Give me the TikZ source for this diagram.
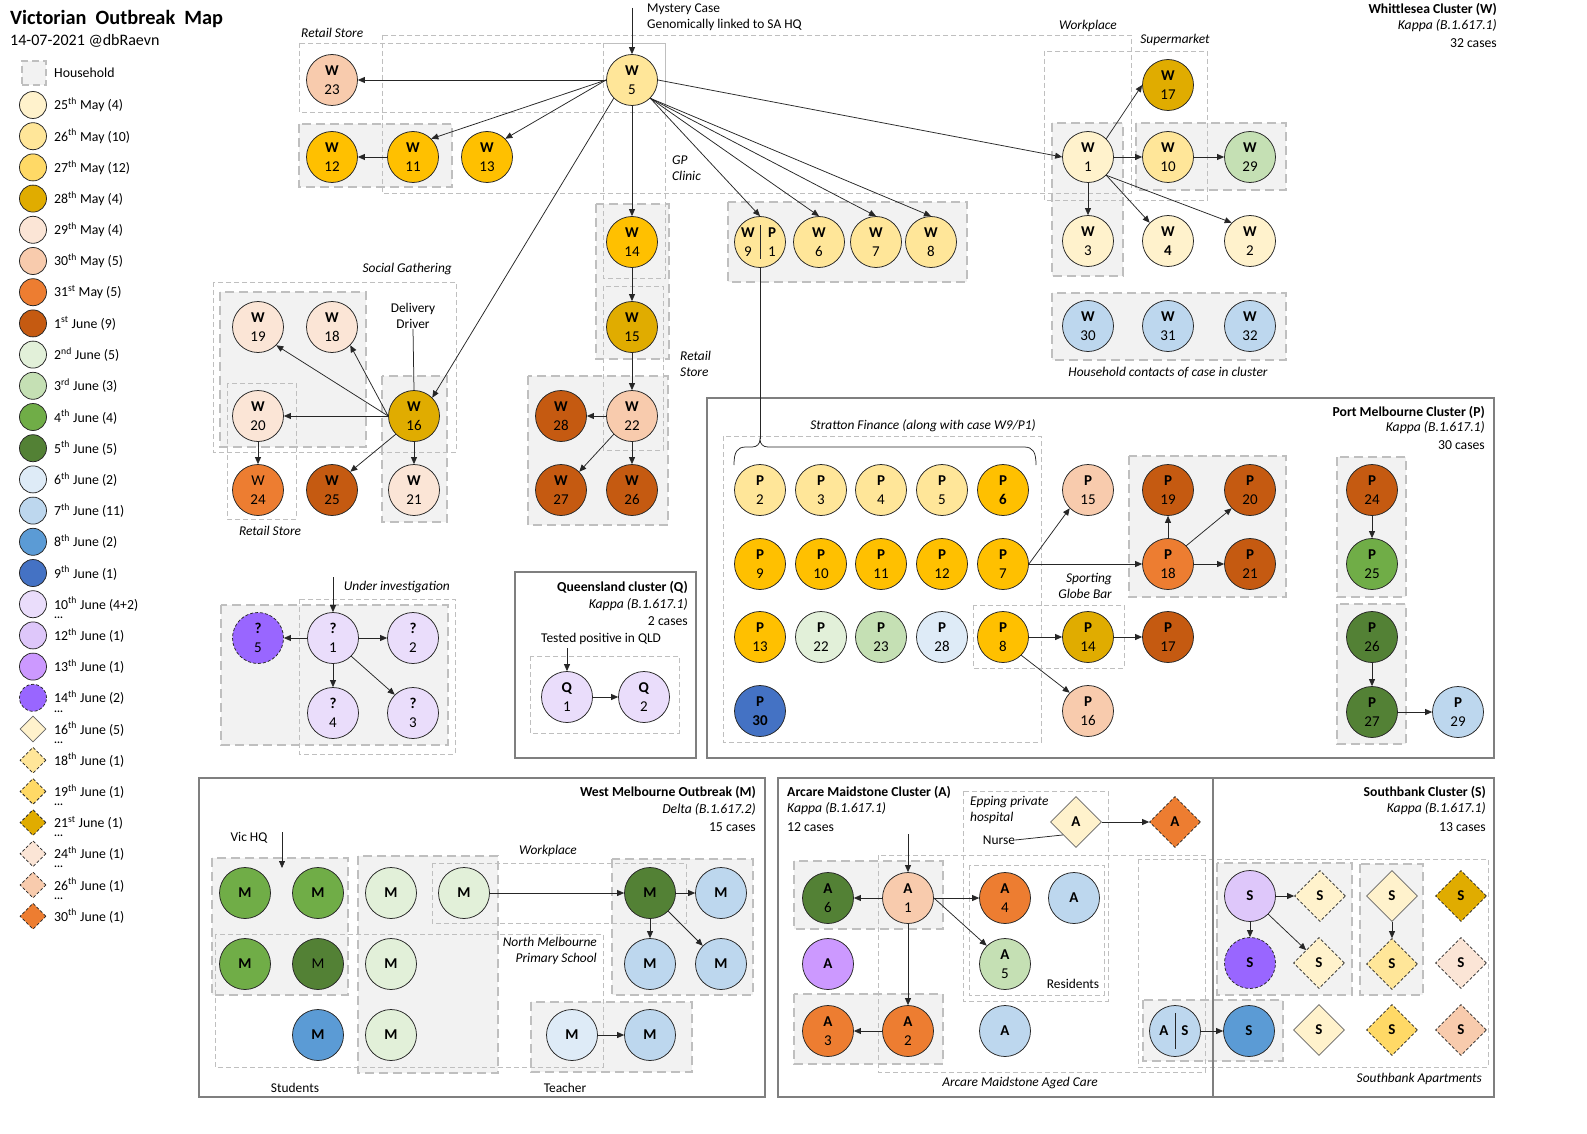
\documentclass[tikz,border=0pt]{standalone}
\usepackage{fontspec}
\setmainfont{Carlito}
\usepackage{tikz}
\usetikzlibrary{shapes.geometric,arrows.meta}

% onset day colours
\definecolor{c25may}{HTML}{FFF2CC}
\definecolor{c26may}{HTML}{FFE699}
\definecolor{c27may}{HTML}{FFC000}
\definecolor{c27leg}{HTML}{FFD966}
\definecolor{c28may}{HTML}{E0AC00}
\definecolor{c29may}{HTML}{FBE5D6}
\definecolor{c30may}{HTML}{F8CBAD}
\definecolor{c31may}{HTML}{ED7D31}
\definecolor{c1jun}{HTML}{C55A11}
\definecolor{c2jun}{HTML}{E2F0D9}
\definecolor{c3jun}{HTML}{C5E0B4}
\definecolor{c4jun}{HTML}{70AD47}
\definecolor{c5jun}{HTML}{538135}
\definecolor{c6jun}{HTML}{DEEBF7}
\definecolor{c7jun}{HTML}{BDD7EE}
\definecolor{c8jun}{HTML}{5B9BD5}
\definecolor{c9jun}{HTML}{4472C4}
\definecolor{c10jun}{HTML}{EADDFB}
\definecolor{c12jun}{HTML}{DEC7FA}
\definecolor{c13jun}{HTML}{CC99FF}
\definecolor{c14jun}{HTML}{9966FF}
\definecolor{c16jun}{HTML}{FFF2CC}
\definecolor{c18jun}{HTML}{FFE699}
\definecolor{c19jun}{HTML}{FFD966}
\definecolor{c21jun}{HTML}{E0AC00}
\definecolor{c24jun}{HTML}{FBE5D6}
\definecolor{c26jun}{HTML}{F8CBAD}
\definecolor{c30jun}{HTML}{ED7D31}
\definecolor{hhfill}{HTML}{F2F2F2}
\definecolor{hhline}{HTML}{BFBFBF}
\definecolor{clusterline}{HTML}{7F7F7F}

\newcommand{\casefont}{\fontsize{15}{19}\selectfont}
\newcommand{\legfont}{\fontsize{13.8}{15}\selectfont}
\newcommand{\tagfont}{\fontsize{13.4}{16}\selectfont}
\newcommand{\headfont}{\fontsize{13.7}{17}\selectfont}

\tikzset{
  case/.style={circle, draw=black!85, line width=0.75pt, minimum size=51pt, inner sep=0pt, align=center, font=\casefont},
  dcase/.style={diamond, draw=black!60, line width=0.75pt, minimum size=51pt, inner sep=0pt, font=\casefont\bfseries},
  late/.style={draw=black!85, dash pattern=on 3pt off 2pt},
  half/.style={inner sep=0pt, align=center, font=\casefont},
  house/.style={draw=hhline, fill=hhfill, line width=2.6pt, dash pattern=on 9pt off 5pt},
  place/.style={draw=hhline, line width=0.8pt, dash pattern=on 5pt off 3pt},
  cluster/.style={draw=clusterline, line width=2.6pt},
  spread/.style={-{Triangle[length=7pt,width=6pt]}, draw=black!85, line width=0.75pt},
  link/.style={draw=black!85, line width=0.75pt},
  tag/.style={font=\tagfont\itshape, inner sep=0pt},
  note/.style={font=\tagfont, inner sep=0pt},
  head/.style={font=\headfont, inner sep=0pt},
  legcase/.style={circle, draw=black!85, line width=0.75pt, minimum size=27pt, inner sep=0pt},
  legdiam/.style={diamond, draw=black!60, line width=0.75pt, minimum size=26pt, inner sep=0pt},
  legtext/.style={font=\legfont, inner sep=0pt, anchor=west},
  legdots/.style={font=\fontsize{11}{11}\selectfont\bfseries, inner sep=0pt, anchor=west},
}

\begin{document}
\begin{tikzpicture}[x=1pt, y=-1pt]
  \fill[white] (0,0) rectangle (1587,1134);
  \useasboundingbox (0,0) rectangle (1587,1134);

  % households
  \draw[house] (299,124) rectangle (452,187);
  \draw[house] (596,204) rectangle (669,359);
  \draw[house] (728,202) rectangle (967,282);
  \draw[house] (1052,123) rectangle (1123,276);
  \draw[house] (1136,123) rectangle (1286,190);
  \draw[house] (1052,293) rectangle (1286,360);
  \draw[house] (220,292) rectangle (366,447);
  \draw[house] (382,376) rectangle (447,522);
  \draw[house] (528,376) rectangle (668,525);
  \draw[house] (221,605) rectangle (448,745);
  \draw[house] (1129,456) rectangle (1286,597);
  \draw[house] (1337,457) rectangle (1406,597);
  \draw[house] (1337,604) rectangle (1406,744);
  \draw[house] (212,858) rectangle (348,995);
  \draw[house] (358,856) rectangle (498,1073);
  \draw[house] (612,859) rectangle (753,995);
  \draw[house] (531,1002) rectangle (692,1072);
  \draw[house] (794,861) rectangle (943,929);
  \draw[house] (794,994) rectangle (943,1064);
  \draw[house] (1143,1000) rectangle (1283,1061);
  \draw[house] (1217,863) rectangle (1352,995);
  \draw[house] (1360,864) rectangle (1423,995);

  % places where cases met
  \draw[place] (299,43) rectangle (665,112);
  \draw[place] (382,35) rectangle (1131,193);
  \draw[place] (1044,51) rectangle (1207,200);
  \draw[place] (603,43) rectangle (665,278);
  \draw[place] (603,286) rectangle (663,450);
  \draw[place] (213,282) rectangle (456,452);
  \draw[place] (227,383) rectangle (296,519);
  \draw[place] (299,599) rectangle (455,754);
  \draw[place] (530,656) rectangle (679,733);
  \draw[place] (723,436) rectangle (1041,742);
  \draw[place] (973,605) rectangle (1124,668);
  \draw[place] (432,863) rectangle (686,923);
  \draw[place] (215,934) rectangle (603,1067);
  \draw[place] (963,791) rectangle (1108,1001);
  \draw[place] (878,855) rectangle (1205,1072);
  \draw[place] (969,865) rectangle (1104,995);
  \draw[place] (1138,859) rectangle (1488,1067);

  % cluster frames
  \draw[cluster] (515,572) rectangle (696,758);
  \draw[cluster] (707,398) rectangle (1494,758);
  \draw[cluster] (199,778) rectangle (765,1097);
  \draw[cluster] (778,778) rectangle (1213,1097);
  \draw[cluster] (1213,778) rectangle (1494,1097);

  % title and legend
  \node[anchor=west, inner sep=0pt, font=\fontsize{20.3}{22}\selectfont\bfseries] (title) at (10,19) {Victorian\hspace{0.45em}Outbreak\hspace{0.45em}Map};
  \node[anchor=west, inner sep=0pt, font=\fontsize{16}{18}\selectfont] (date) at (10,41) {14-07-2021 @dbRaevn};
  \node[draw=hhline, fill=hhfill, line width=2.2pt, dash pattern=on 7pt off 4pt, minimum size=24pt, inner sep=0pt] (lhh) at (34,73) {};
  \node[legtext] (thh) at (54,73) {Household};
  \node[legcase, fill=c25may] (l1) at (33,105) {}; \node[legtext] (t1) at (54,105) {25\textsuperscript{th} May (4)};
  \node[legcase, fill=c26may] (l2) at (33,136.2) {}; \node[legtext] (t2) at (54,136.2) {26\textsuperscript{th} May (10)};
  \node[legcase, fill=c27leg] (l3) at (33,167.4) {}; \node[legtext] (t3) at (54,167.4) {27\textsuperscript{th} May (12)};
  \node[legcase, fill=c28may] (l4) at (33,198.6) {}; \node[legtext] (t4) at (54,198.6) {28\textsuperscript{th} May (4)};
  \node[legcase, fill=c29may] (l5) at (33,229.8) {}; \node[legtext] (t5) at (54,229.8) {29\textsuperscript{th} May (4)};
  \node[legcase, fill=c30may] (l6) at (33,261) {}; \node[legtext] (t6) at (54,261) {30\textsuperscript{th} May (5)};
  \node[legcase, fill=c31may] (l7) at (33,292.2) {}; \node[legtext] (t7) at (54,292.2) {31\textsuperscript{st} May (5)};
  \node[legcase, fill=c1jun] (l8) at (33,323.4) {}; \node[legtext] (t8) at (54,323.4) {1\textsuperscript{st} June (9)};
  \node[legcase, fill=c2jun] (l9) at (33,354.6) {}; \node[legtext] (t9) at (54,354.6) {2\textsuperscript{nd} June (5)};
  \node[legcase, fill=c3jun] (l10) at (33,385.8) {}; \node[legtext] (t10) at (54,385.8) {3\textsuperscript{rd} June (3)};
  \node[legcase, fill=c4jun] (l11) at (33,417) {}; \node[legtext] (t11) at (54,417) {4\textsuperscript{th} June (4)};
  \node[legcase, fill=c5jun] (l12) at (33,448.2) {}; \node[legtext] (t12) at (54,448.2) {5\textsuperscript{th} June (5)};
  \node[legcase, fill=c6jun] (l13) at (33,479.4) {}; \node[legtext] (t13) at (54,479.4) {6\textsuperscript{th} June (2)};
  \node[legcase, fill=c7jun] (l14) at (33,510.6) {}; \node[legtext] (t14) at (54,510.6) {7\textsuperscript{th} June (11)};
  \node[legcase, fill=c8jun] (l15) at (33,541.8) {}; \node[legtext] (t15) at (54,541.8) {8\textsuperscript{th} June (2)};
  \node[legcase, fill=c9jun] (l16) at (33,573) {}; \node[legtext] (t16) at (54,573) {9\textsuperscript{th} June (1)};
  \node[legcase, fill=c10jun] (l17) at (33,604.2) {}; \node[legtext] (t17) at (54,604.2) {10\textsuperscript{th} June (4+2)};
  \node[legcase, fill=c12jun] (l18) at (33,635.4) {}; \node[legtext] (t18) at (54,635.4) {12\textsuperscript{th} June (1)};
  \node[legcase, fill=c13jun] (l19) at (33,666.6) {}; \node[legtext] (t19) at (54,666.6) {13\textsuperscript{th} June (1)};
  \node[legcase, late, fill=c14jun] (l20) at (33,697.8) {}; \node[legtext] (t20) at (54,697.8) {14\textsuperscript{th} June (2)};
  \node[legdiam, fill=c16jun] (l21) at (33,729) {}; \node[legtext] (t21) at (54,729) {16\textsuperscript{th} June (5)};
  \node[legdiam, late, fill=c18jun] (l22) at (33,760.2) {}; \node[legtext] (t22) at (54,760.2) {18\textsuperscript{th} June (1)};
  \node[legdiam, late, fill=c19jun] (l23) at (33,791.4) {}; \node[legtext] (t23) at (54,791.4) {19\textsuperscript{th} June (1)};
  \node[legdiam, late, fill=c21jun] (l24) at (33,822.6) {}; \node[legtext] (t24) at (54,822.6) {21\textsuperscript{st} June (1)};
  \node[legdiam, late, fill=c24jun] (l25) at (33,853.8) {}; \node[legtext] (t25) at (54,853.8) {24\textsuperscript{th} June (1)};
  \node[legdiam, late, fill=c26jun] (l26) at (33,885) {}; \node[legtext] (t26) at (54,885) {26\textsuperscript{th} June (1)};
  \node[legdiam, late, fill=c30jun] (l27) at (33,916.2) {}; \node[legtext] (t27) at (54,916.2) {30\textsuperscript{th} June (1)};
  \node[legdots] (d1) at (54,618) {...};
  \node[legdots] (d2) at (54,712) {...};
  \node[legdots] (d3) at (54,743) {...};
  \node[legdots] (d4) at (54,805) {...};
  \node[legdots] (d5) at (54,836) {...};
  \node[legdots] (d6) at (54,867) {...};
  \node[legdots] (d7) at (54,899) {...};

  % Whittlesea cluster
  \node[head, anchor=east] (whead1) at (1497,9) {\textbf{Whittlesea Cluster (W)}};
  \node[head, anchor=east] (whead2) at (1497,26) {\textit{Kappa (B.1.617.1)}};
  \node[head, anchor=east] (whead3) at (1497,43) {32 cases};
  \node[case, fill=c30may] (w23) at (332,80) {\textbf{W}\\23};
  \node[case, fill=c26may] (w5) at (632,80) {\textbf{W}\\5};
  \node[case, fill=c27may] (w12) at (332,157) {\textbf{W}\\12};
  \node[case, fill=c27may] (w11) at (413,157) {\textbf{W}\\11};
  \node[case, fill=c27may] (w13) at (487,157) {\textbf{W}\\13};
  \node[case, fill=c27may] (w14) at (632,242) {\textbf{W}\\14};
  \node[case, fill=c28may] (w15) at (632,327) {\textbf{W}\\15};
  \node[case, fill=c26may] (wp) at (760,242) {};
  \node[half] (wpw) at (748,242) {\textbf{W}\\9};
  \node[half] (wpp) at (772,242) {\textbf{P}\\1};
  \draw[link] ([yshift=17pt]wp.center) -- ([yshift=-17pt]wp.center);
  \node[case, fill=c26may] (w6) at (819,242) {\textbf{W}\\6};
  \node[case, fill=c26may] (w7) at (876,242) {\textbf{W}\\7};
  \node[case, fill=c26may] (w8) at (931,242) {\textbf{W}\\8};
  \node[case, fill=c25may] (w1) at (1088,157) {\textbf{W}\\1};
  \node[case, fill=c28may] (w17) at (1168,85) {\textbf{W}\\17};
  \node[case, fill=c26may] (w10) at (1168,157) {\textbf{W}\\10};
  \node[case, fill=c3jun] (w29) at (1250,157) {\textbf{W}\\29};
  \node[case, fill=c25may] (w3) at (1088,241) {\textbf{W}\\3};
  \node[case, fill=c25may] (w4) at (1168,241) {\textbf{W}\\\textbf{4}};
  \node[case, fill=c25may] (w2) at (1250,241) {\textbf{W}\\2};
  \node[case, fill=c7jun] (w30) at (1088,326) {\textbf{W}\\30};
  \node[case, fill=c7jun] (w31) at (1168,326) {\textbf{W}\\31};
  \node[case, fill=c7jun] (w32) at (1250,326) {\textbf{W}\\32};
  \node[case, fill=c29may] (w19) at (258,327) {\textbf{W}\\19};
  \node[case, fill=c29may] (w18) at (332,327) {\textbf{W}\\18};
  \node[case, fill=c29may] (w20) at (258,416) {\textbf{W}\\20};
  \node[case, fill=c28may] (w16) at (414,416) {\textbf{W}\\16};
  \node[case, fill=c31may] (w24) at (258,490) {W\\24};
  \node[case, fill=c1jun] (w25) at (332,490) {\textbf{W}\\25};
  \node[case, fill=c29may] (w21) at (414,490) {\textbf{W}\\21};
  \node[case, fill=c30may] (w22) at (632,416) {\textbf{W}\\22};
  \node[case, fill=c1jun] (w28) at (561,416) {\textbf{W}\\28};
  \node[case, fill=c1jun] (w27) at (561,490) {\textbf{W}\\27};
  \node[case, fill=c1jun] (w26) at (632,490) {\textbf{W}\\26};

  \node[tag, anchor=west] (lretail) at (301,33) {Retail Store};
  \node[tag] (lwork) at (1088,26) {Workplace};
  \node[tag] (lsuper) at (1175,40) {Supermarket};
  \node[tag, anchor=west, align=left] (lgp) at (672,168) {GP\\Clinic};
  \node[tag, anchor=west, align=left] (lretail2) at (680,364) {Retail\\Store};
  \node[tag, anchor=east] (lsocial) at (452,269) {Social Gathering};
  \node[note, align=center] (driver) at (413,316) {Delivery\\Driver};
  \node[tag] (lretail3) at (270,531) {Retail Store};
  \node[note, anchor=west, align=left] (lmystery) at (647,17) {Mystery Case\\Genomically linked to SA HQ};
  \node[tag] (lhh) at (1168,373) {Household contacts of case in cluster};
  \coordinate (mystery) at (632,8);
  \coordinate (bracetip) at (760,439);

  \draw[spread] (mystery) -- (w5.north);
  \draw[spread] (w5.west) -- (w23.east);
  \draw[spread] (w5.west) -- (w11.north east);
  \draw[spread] (w5.west) -- (w13.north east);
  \draw[spread] (w11.west) -- (w12.east);
  \draw[spread] (w5.south west) -- (w16.north east);
  \draw[spread] (w5.south) -- (w14.north);
  \draw[spread] (w5.south east) -- (wp.north);
  \draw[spread] (w5.south east) -- (w6.north);
  \draw[spread] (w5.south east) -- (w7.north);
  \draw[spread] (w5.south east) -- (w8.north);
  \draw[spread] (w5.east) -- (w1.west);
  \draw[spread] (w1.north east) -- (w17.west);
  \draw[spread] (w1.east) -- (w10.west);
  \draw[spread] (w10.east) -- (w29.west);
  \draw[spread] (w1.south) -- (w3.north);
  \draw[spread] (w1.south east) -- (w4.north west);
  \draw[spread] (w1.south east) -- (w2.north west);
  \draw[link] (driver.south) -- (w16.north);
  \draw[spread] (w16.west) -- (w19.south east);
  \draw[spread] (w16.west) -- (w18.south east);
  \draw[spread] (w16.west) -- (w20.east);
  \draw[spread] (w16.south west) -- (w25.north east);
  \draw[spread] (w16.south) -- (w21.north);
  \draw[spread] (w20.south) -- (w24.north);
  \draw[spread] (w14.south) -- (w15.north);
  \draw[spread] (w15.south) -- (w22.north);
  \draw[spread] (w22.west) -- (w28.east);
  \draw[spread] (w22.south west) -- (w27.north east);
  \draw[spread] (w22.south) -- (w26.north);
  \draw[link] (wp.south) -- (bracetip);

  % under investigation
  \node[tag, anchor=east] (linv) at (450,587) {Under investigation};
  \coordinate (uinv) at (333,577);
  \node[case, late, fill=c14jun] (u5) at (258,638) {\textbf{?}\\5};
  \node[case, fill=c10jun] (u1) at (333,638) {\textbf{?}\\1};
  \node[case, fill=c10jun] (u2) at (413,638) {\textbf{?}\\2};
  \node[case, fill=c10jun] (u4) at (333,713) {\textbf{?}\\4};
  \node[case, fill=c10jun] (u3) at (413,713) {\textbf{?}\\3};
  \draw[spread] (uinv) -- (u1.north);
  \draw[spread] (u1.west) -- (u5.east);
  \draw[spread] (u1.east) -- (u2.west);
  \draw[spread] (u1.south) -- (u4.north);
  \draw[spread] (u1.south east) -- (u3.north west);

  % Queensland cluster
  \node[head, anchor=east] (qhead1) at (688,587) {\textbf{Queensland cluster (Q)}};
  \node[head, anchor=east] (qhead2) at (688,605) {\textit{Kappa (B.1.617.1)}};
  \node[head, anchor=east] (qhead3) at (688,621) {2 cases};
  \node[note, anchor=west] (lqld) at (541,639) {Tested positive in QLD};
  \coordinate (qld) at (567,648);
  \node[case, fill=c10jun] (q1) at (567,697) {\textbf{Q}\\1};
  \node[case, fill=c10jun] (q2) at (644,697) {\textbf{Q}\\2};
  \draw[spread] (qld) -- (q1.north);
  \draw[spread] (q1.east) -- (q2.west);

  % Port Melbourne cluster
  \node[head, anchor=east] (phead1) at (1485,412) {\textbf{Port Melbourne Cluster (P)}};
  \node[head, anchor=east] (phead2) at (1485,428) {\textit{Kappa (B.1.617.1)}};
  \node[head, anchor=east] (phead3) at (1485,445) {30 cases};
  \node[tag, anchor=east] (lstratton) at (1036,426) {Stratton Finance (along with case W9/P1)};
  \node[tag, anchor=east, align=right] (lbar) at (1112,586) {Sporting\\Globe Bar};
  \draw[link] (734,465) .. controls (734,452) and (737,447) .. (746,447) -- (752,447)
    .. controls (757,447) and (760,444) .. (bracetip)
    .. controls (760,444) and (763,447) .. (768,447) -- (1024,447)
    .. controls (1033,447) and (1036,452) .. (1036,465);
  \node[case, fill=c26may] (p2) at (760,490) {\textbf{P}\\2};
  \node[case, fill=c26may] (p3) at (821,490) {\textbf{P}\\3};
  \node[case, fill=c26may] (p4) at (881,490) {\textbf{P}\\4};
  \node[case, fill=c26may] (p5) at (942,490) {\textbf{P}\\5};
  \node[case, fill=c27may] (p6) at (1003,490) {\textbf{P}\\\textbf{6}};
  \node[case, fill=c30may] (p15) at (1088,490) {\textbf{P}\\15};
  \node[case, fill=c1jun] (p19) at (1168,490) {\textbf{P}\\19};
  \node[case, fill=c1jun] (p20) at (1250,490) {\textbf{P}\\20};
  \node[case, fill=c27may] (p9) at (760,564) {\textbf{P}\\9};
  \node[case, fill=c27may] (p10) at (821,564) {\textbf{P}\\10};
  \node[case, fill=c27may] (p11) at (881,564) {\textbf{P}\\11};
  \node[case, fill=c27may] (p12) at (942,564) {\textbf{P}\\12};
  \node[case, fill=c27may] (p7) at (1003,564) {\textbf{P}\\7};
  \node[case, fill=c31may] (p18) at (1168,564) {\textbf{P}\\18};
  \node[case, fill=c1jun] (p21) at (1250,564) {\textbf{P}\\21};
  \node[case, fill=c27may] (p13) at (760,637) {\textbf{P}\\13};
  \node[case, fill=c2jun] (p22) at (821,637) {\textbf{P}\\22};
  \node[case, fill=c3jun] (p23) at (881,637) {\textbf{P}\\23};
  \node[case, fill=c6jun] (p28) at (942,637) {\textbf{P}\\28};
  \node[case, fill=c27may] (p8) at (1003,637) {\textbf{P}\\8};
  \node[case, fill=c28may] (p14) at (1088,637) {\textbf{P}\\14};
  \node[case, fill=c1jun] (p17) at (1168,637) {\textbf{P}\\17};
  \node[case, fill=c9jun] (p30) at (760,711) {\textbf{P}\\\textbf{30}};
  \node[case, fill=c30may] (p16) at (1088,711) {\textbf{P}\\16};
  \node[case, fill=c1jun] (p24) at (1372,490) {\textbf{P}\\24};
  \node[case, fill=c4jun] (p25) at (1372,564) {\textbf{P}\\25};
  \node[case, fill=c5jun] (p26) at (1372,637) {\textbf{P}\\26};
  \node[case, fill=c5jun] (p27) at (1372,712) {\textbf{P}\\27};
  \node[case, fill=c7jun] (p29) at (1458,712) {\textbf{P}\\29};
  \draw[spread] (p7.east) -- (p15.south west);
  \draw[spread] (p7.east) -- (p18.west);
  \draw[spread] (p18.north) -- (p19.south);
  \draw[spread] (p18.north east) -- (p20.south west);
  \draw[spread] (p18.east) -- (p21.west);
  \draw[spread] (p8.east) -- (p14.west);
  \draw[spread] (p14.east) -- (p17.west);
  \draw[spread] (p8.south east) -- (p16.north west);
  \draw[spread] (p24.south) -- (p25.north);
  \draw[spread] (p26.south) -- (p27.north);
  \draw[spread] (p27.east) -- (p29.west);

  % West Melbourne outbreak
  \node[head, anchor=east] (mhead1) at (756,792) {\textbf{West Melbourne Outbreak (M)}};
  \node[head, anchor=east] (mhead2) at (756,809) {\textit{Delta (B.1.617.2)}};
  \node[head, anchor=east] (mhead3) at (756,827) {15 cases};
  \node[note] (lvic) at (249,838) {Vic HQ};
  \node[tag] (lmwork) at (548,851) {Workplace};
  \node[tag, anchor=east, align=right] (lschool) at (597,951) {North Melbourne\\Primary School};
  \node[note] (lstudents) at (295,1088) {Students};
  \node[note] (lteacher) at (565,1088) {Teacher};
  \coordinate (vichq) at (282,832);
  \coordinate (vicin) at (282,868);
  \node[case, fill=c4jun] (m1) at (245,893) {\textbf{M}};
  \node[case, fill=c4jun] (m2) at (318,893) {\textbf{M}};
  \node[case, fill=c4jun] (m3) at (245,964) {\textbf{M}};
  \node[case, fill=c5jun] (m4) at (318,964) {M};
  \node[case, fill=c8jun] (m5) at (318,1035) {\textbf{M}};
  \node[case, fill=c2jun] (m6) at (391,893) {\textbf{M}};
  \node[case, fill=c2jun] (m7) at (464,893) {\textbf{M}};
  \node[case, fill=c2jun] (m8) at (391,964) {\textbf{M}};
  \node[case, fill=c2jun] (m9) at (391,1035) {\textbf{M}};
  \node[case, fill=c5jun] (m10) at (650,893) {\textbf{M}};
  \node[case, fill=c7jun] (m11) at (721,893) {\textbf{M}};
  \node[case, fill=c7jun] (m12) at (650,964) {\textbf{M}};
  \node[case, fill=c7jun] (m13) at (721,964) {\textbf{M}};
  \node[case, fill=c6jun] (m14) at (572,1035) {\textbf{M}};
  \node[case, fill=c7jun] (m15) at (650,1035) {\textbf{M}};
  \draw[spread] (vichq) -- (vicin);
  \draw[spread] (m7.east) -- (m10.west);
  \draw[spread] (m10.east) -- (m11.west);
  \draw[spread] (m10.south) -- (m12.north);
  \draw[spread] (m10.south east) -- (m13.north west);
  \draw[spread] (m14.east) -- (m15.west);

  % Arcare Maidstone cluster
  \node[head, anchor=west] (ahead1) at (787,792) {\textbf{Arcare Maidstone Cluster (A)}};
  \node[head, anchor=west] (ahead2) at (787,809) {\textit{Kappa (B.1.617.1)}};
  \node[head, anchor=west] (ahead3) at (787,827) {12 cases};
  \node[tag, anchor=west, align=left] (lepping) at (970,810) {Epping private\\hospital};
  \node[note] (nurse) at (999,840) {Nurse};
  \node[note] (lresidents) at (1073,984) {Residents};
  \node[tag] (laged) at (1020,1083) {Arcare Maidstone Aged Care};
  \coordinate (aged) at (908,834);
  \node[case, fill=c5jun] (a6) at (828,898) {\textbf{A}\\6};
  \node[case, fill=c30may] (a1) at (908,898) {\textbf{A}\\1};
  \node[case, fill=c31may] (a4) at (1005,898) {\textbf{A}\\4};
  \node[case, fill=c7jun] (ar) at (1074,898) {\textbf{A}};
  \node[case, fill=c3jun] (a5) at (1005,964) {\textbf{A}\\5};
  \node[case, fill=c13jun] (ap) at (828,964) {\textbf{A}};
  \node[case, fill=c31may] (a3) at (828,1031) {\textbf{A}\\3};
  \node[case, fill=c31may] (a2) at (908,1031) {\textbf{A}\\2};
  \node[case, fill=c7jun] (ab) at (1005,1031) {\textbf{A}};
  \node[case, fill=c7jun] (asplit) at (1175,1031) {};
  \node[half] (asa) at (1164,1031) {\textbf{A}};
  \node[half] (ass) at (1185,1031) {\textbf{S}};
  \draw[link] ([yshift=18pt]asplit.center) -- ([yshift=-18pt]asplit.center);
  \node[dcase, fill=c16jun] (ad) at (1076,822) {A};
  \node[dcase, late, fill=c30jun] (ao) at (1175,822) {A};
  \draw[spread] (aged) -- (a1.north);
  \draw[spread] (a1.west) -- (a6.east);
  \draw[spread] (a1.east) -- (a4.west);
  \draw[spread] (a1.east) -- (a5.north west);
  \draw[spread] (a1.south) -- (a2.north);
  \draw[spread] (a2.west) -- (a3.east);
  \draw[link] (nurse.east) -- (ad.south west);
  \draw[spread] (ad.east) -- (ao.west);

  % Southbank cluster
  \node[head, anchor=east] (shead1) at (1486,792) {\textbf{Southbank Cluster (S)}};
  \node[head, anchor=east] (shead2) at (1486,809) {\textit{Kappa (B.1.617.1)}};
  \node[head, anchor=east] (shead3) at (1486,827) {13 cases};
  \node[tag, anchor=east] (lsouth) at (1482,1079) {Southbank Apartments};
  \node[case, fill=c12jun] (s1) at (1250,896) {\textbf{S}};
  \node[dcase, late, fill=c16jun] (s2) at (1320,896) {S};
  \node[case, late, fill=c14jun] (s3) at (1250,963) {\textbf{S}};
  \node[dcase, late, fill=c16jun] (s4) at (1319,963) {S};
  \node[dcase, fill=c16jun] (s5) at (1392,896) {S};
  \node[dcase, late, fill=c18jun] (s6) at (1392,964) {S};
  \node[dcase, late, fill=c21jun] (s7) at (1461,896) {S};
  \node[dcase, late, fill=c24jun] (s8) at (1461,963) {S};
  \node[case, fill=c8jun] (s9) at (1249,1031) {\textbf{S}};
  \node[dcase, fill=c16jun] (s10) at (1319,1030) {S};
  \node[dcase, late, fill=c19jun] (s11) at (1392,1030) {S};
  \node[dcase, late, fill=c26jun] (s12) at (1461,1030) {S};
  \draw[spread] (asplit.east) -- (s9.west);
  \draw[spread] (s1.east) -- (s2.west);
  \draw[spread] (s1.south) -- (s3.north);
  \draw[spread] (s1.south east) -- (s4.north west);
  \draw[spread] (s5.south) -- (s6.north);
\end{tikzpicture}
\end{document}
